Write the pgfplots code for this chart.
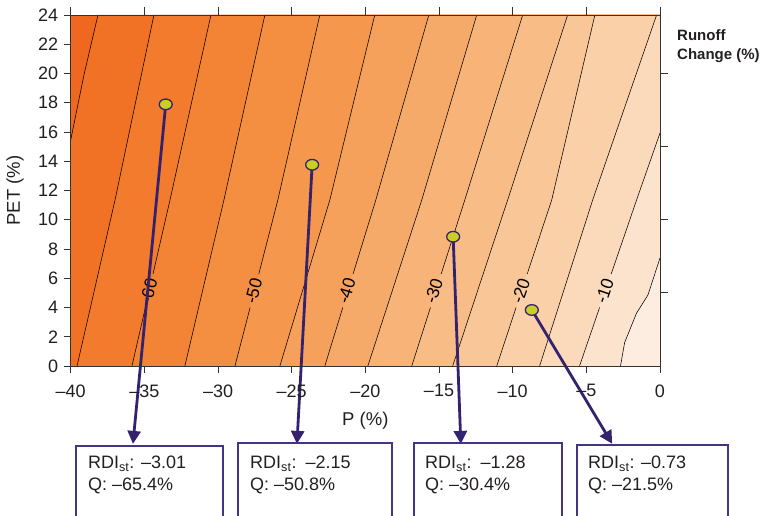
\documentclass[border=0pt]{standalone}
\usepackage{pgfplots}
\pgfplotsset{compat=1.18}
\usetikzlibrary{arrows.meta}
\usepackage{fontspec}
\setmainfont{Liberation Sans}
\definecolor{R0}{RGB}{240,104,32}
\definecolor{R1}{RGB}{241,113,37}
\definecolor{R2}{RGB}{242,123,45}
\definecolor{R3}{RGB}{243,132,54}
\definecolor{R4}{RGB}{244,142,65}
\definecolor{R5}{RGB}{245,151,77}
\definecolor{R6}{RGB}{246,161,91}
\definecolor{R7}{RGB}{246,170,105}
\definecolor{R8}{RGB}{247,179,120}
\definecolor{R9}{RGB}{248,189,135}
\definecolor{R10}{RGB}{249,198,152}
\definecolor{R11}{RGB}{250,208,169}
\definecolor{R12}{RGB}{251,217,187}
\definecolor{R13}{RGB}{252,227,205}
\definecolor{R14}{RGB}{253,236,224}
\definecolor{arr}{RGB}{52,34,110}
\definecolor{boxc}{RGB}{70,52,130}
\definecolor{ptfill}{RGB}{204,206,40}
\definecolor{txt}{RGB}{35,31,32}
\begin{document}
\begin{tikzpicture}
\path[use as bounding box] (-70.7pt,-150pt) rectangle (690.3pt,366pt);
\begin{axis}[
  at={(0pt,0pt)}, anchor=south west,
  scale only axis, width=589.3pt, height=351pt,
  xmin=-40, xmax=0, ymin=0, ymax=24,
  xtick={-40,-35,...,0},
  xticklabels={–40,–35,–30,–25,–20,–15,–10,–5,0},
  ytick={0,2,...,24},
  xtick pos=both, ytick pos=left,
  xticklabel pos=left,
  tick align=outside,
  major tick length=7pt,
  every tick/.style={line width=0.8pt, color=black!80},
  axis line style={line width=0.8pt, black!80},
  ticklabel style={font=\fontsize{18}{20}\selectfont, color=txt},
  xticklabel style={yshift=-8pt},
  yticklabel style={xshift=-2pt},
  /pgf/number format/assume math mode=true,
  xlabel={P (\%)}, ylabel={PET (\%)},
  label style={font=\fontsize{18.5}{20}\selectfont, color=txt},
  xlabel style={at={(axis description cs:0.5,-0.157)}, anchor=center},
  ylabel style={at={(axis description cs:-0.0945,0.5)}, anchor=center},
  clip=false,
  axis on top,
]
% filled contour regions
\addplot[fill=R0,draw=none] coordinates {(-40,0)(-40,24)(0,24)(0,0)} --cycle;
\addplot[fill=R1,draw=none] coordinates {(-40,0)(-40,15.45)(-39.10,19.9)(-38.15,24)(0,24)(0,0)} --cycle;
\addplot[fill=R2,draw=none] coordinates {(-39.57,0)(-36.99,11.35)(-34.35,24)(0,24)(0,0)} --cycle;
\addplot[fill=R3,draw=none] coordinates {(-35.84,0)(-33.26,11.35)(-30.48,24)(0,24)(0,0)} --cycle;
\addplot[fill=R4,draw=none] coordinates {(-32.25,0)(-29.60,11.35)(-26.82,24)(0,24)(0,0)} --cycle;
\addplot[fill=R5,draw=none] coordinates {(-28.85,0)(-25.94,11.35)(-23.09,24)(0,24)(0,0)} --cycle;
\addplot[fill=R6,draw=none] coordinates {(-25.80,0)(-22.41,11.35)(-19.36,24)(0,24)(0,0)} --cycle;
\addplot[fill=R7,draw=none] coordinates {(-22.75,0)(-19.29,11.35)(-15.69,24)(0,24)(0,0)} --cycle;
\addplot[fill=R8,draw=none] coordinates {(-19.83,0)(-16.17,11.35)(-12.44,24)(0,24)(0,0)} --cycle;
\addplot[fill=R9,draw=none] coordinates {(-16.85,0)(-13.25,11.35)(-9.32,24)(0,24)(0,0)} --cycle;
\addplot[fill=R10,draw=none] coordinates {(-14.07,0)(-10.34,11.35)(-6.27,24)(0,24)(0,0)} --cycle;
\addplot[fill=R11,draw=none] coordinates {(-11.08,0)(-7.35,11.35)(-4.42,24)(0,24)(0,0)} --cycle;
\addplot[fill=R12,draw=none] coordinates {(-8.17,0)(-4.57,11.35)(-0.23,24)(0,24)(0,0)} --cycle;
\addplot[fill=R13,draw=none] coordinates {(-5.46,0)(-1.59,11.35)(0,15.93)(0,0)} --cycle;
\addplot[fill=R14,draw=none] coordinates {(-2.68,0)(-2.40,1.6)(-1.60,3.6)(-0.82,4.85)(0,7.38)(0,0)} --cycle;
% contour lines
\pgfplotsset{cline/.style={black, line width=0.55pt}}
\addplot[cline] coordinates {(-40,15.45)(-39.10,19.9)(-38.15,24)};
\addplot[cline] coordinates {(-39.57,0)(-36.99,11.35)(-34.35,24)};
\addplot[cline] coordinates {(-35.84,0)(-34.93,4.0)};
\addplot[cline] coordinates {(-34.41,6.3)(-33.26,11.35)(-30.48,24)};
\addplot[cline] coordinates {(-32.25,0)(-29.60,11.35)(-26.82,24)};
\addplot[cline] coordinates {(-28.85,0)(-27.82,4.0)};
\addplot[cline] coordinates {(-27.23,6.3)(-25.94,11.35)(-23.09,24)};
\addplot[cline] coordinates {(-25.80,0)(-22.41,11.35)(-19.36,24)};
\addplot[cline] coordinates {(-22.75,0)(-21.53,4.0)};
\addplot[cline] coordinates {(-20.83,6.3)(-19.29,11.35)(-15.69,24)};
\addplot[cline] coordinates {(-19.83,0)(-16.17,11.35)(-12.44,24)};
\addplot[cline] coordinates {(-16.85,0)(-15.58,4.0)};
\addplot[cline] coordinates {(-14.85,6.3)(-13.25,11.35)(-9.32,24)};
\addplot[cline] coordinates {(-14.07,0)(-10.34,11.35)(-6.27,24)};
\addplot[cline] coordinates {(-11.08,0)(-9.77,4.0)};
\addplot[cline] coordinates {(-9.01,6.3)(-7.35,11.35)(-4.42,24)};
\addplot[cline] coordinates {(-8.17,0)(-4.57,11.35)(-0.23,24)};
\addplot[cline] coordinates {(-5.46,0)(-4.10,4.0)};
\addplot[cline] coordinates {(-3.31,6.3)(-1.59,11.35)(0,15.93)};
\addplot[cline] coordinates {(-2.68,0)(-2.40,1.6)(-1.60,3.6)(-0.82,4.85)(0,7.38)};
% contour labels
\begin{scope}[every node/.style={font=\fontsize{17.5}{18}\selectfont, text=black, inner sep=0pt}]
\node[rotate=76] at (axis cs:-34.70,5.13) {-60};
\node[rotate=75] at (axis cs:-27.58,5.13) {-50};
\node[rotate=73] at (axis cs:-21.28,5.13) {-40};
\node[rotate=72] at (axis cs:-15.35,5.13) {-30};
\node[rotate=71] at (axis cs:-9.45,5.13) {-20};
\node[rotate=71] at (axis cs:-3.76,5.13) {-10};
\end{scope}
% arrows
\pgfplotsset{arrw/.style={arr, line width=2.8pt, -{Triangle[width=13pt,length=13pt]}, shorten >=-1pt}}
\addplot[arrw] coordinates {(-33.55,17.89)(-35.77,-5.26)};
\addplot[arrw] coordinates {(-23.61,13.76)(-24.64,-5.26)};
\addplot[arrw] coordinates {(-14.04,8.84)(-13.52,-5.26)};
\addplot[arrw] coordinates {(-8.70,3.83)(-3.28,-5.26)};
% points
\addplot[only marks, mark=*, mark size=5.3pt,
  mark options={fill=ptfill, draw=arr, line width=1.3pt, xscale=1.22}]
  coordinates {(-33.55,17.89)(-23.61,13.76)(-14.04,8.84)(-8.70,3.83)};
\end{axis}
\begin{axis}[
  at={(0pt,0pt)}, anchor=south west,
  scale only axis, width=589.3pt, height=351pt,
  xmin=-40, xmax=0, ymin=0, ymax=24,
  xtick={-40,-35,...,0}, ytick={5,10,15,20},
  xtick pos=right, ytick pos=right,
  xticklabels={}, yticklabels={},
  tick align=outside,
  major tick length=8pt,
  every tick/.style={line width=0.8pt, color=black!80},
  axis line style={line width=0.8pt, black!80},
]
\end{axis}
% legend title
\node[anchor=north west, inner sep=0pt, align=left, text=txt,
  font=\fontsize{15}{19}\selectfont\bfseries] at (606.3pt,337pt) {Runoff\\Change (\%)};
% boxes (cut by the lower edge of the picture)
\begin{scope}[every node/.style={anchor=base west, inner sep=0pt, text=txt, font=\fontsize{18}{20}\selectfont}]
\draw[boxc, line width=1.3pt] (5.3pt,-150pt) |- (152.3pt,-80pt) -- (152.3pt,-150pt);
\node at (17.3pt,-103pt) {RDI\textsubscript{st}: –3.01};
\node at (17.3pt,-125pt) {Q: –65.4\%};
\draw[boxc, line width=1.3pt] (167.3pt,-150pt) |- (321.3pt,-77pt) -- (321.3pt,-150pt);
\node at (179.3pt,-103pt) {RDI\textsubscript{st}:\hspace{9pt}–2.15};
\node at (179.3pt,-125pt) {Q: –50.8\%};
\draw[boxc, line width=1.3pt] (343.3pt,-150pt) |- (491.3pt,-77pt) -- (491.3pt,-150pt);
\node at (354.3pt,-103pt) {RDI\textsubscript{st}:\hspace{9pt}–1.28};
\node at (354.3pt,-125pt) {Q: –30.4\%};
\draw[boxc, line width=1.3pt] (506.3pt,-150pt) |- (657.3pt,-79pt) -- (657.3pt,-150pt);
\node at (517.3pt,-103pt) {RDI\textsubscript{st}: –0.73};
\node at (517.3pt,-125pt) {Q: –21.5\%};
\end{scope}
\end{tikzpicture}
\end{document}
